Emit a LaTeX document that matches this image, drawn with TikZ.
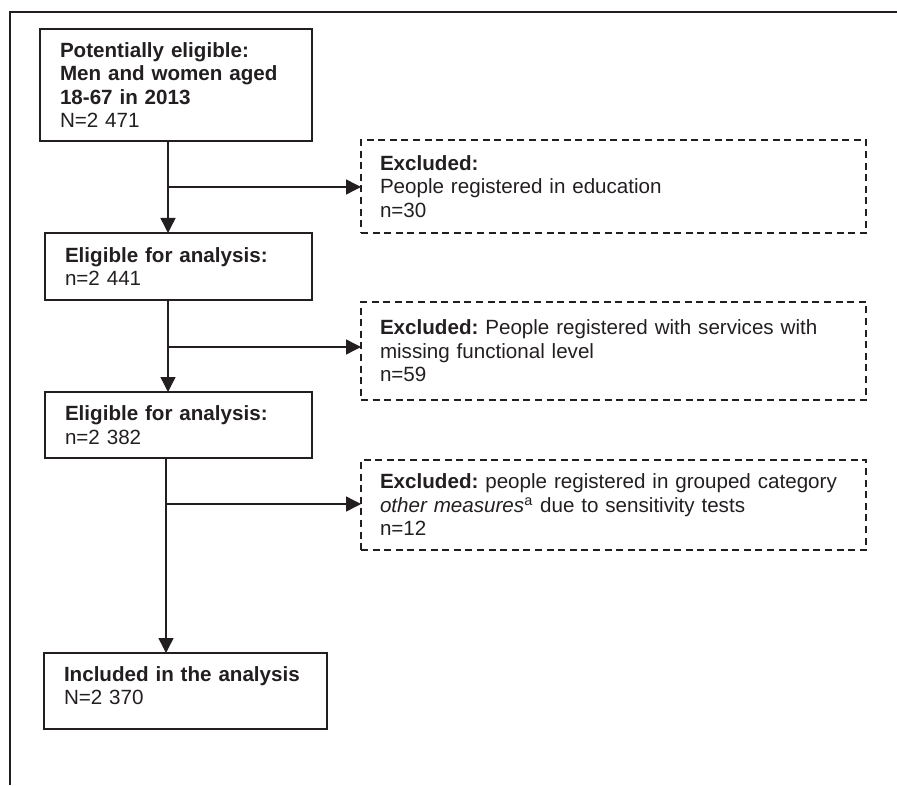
\documentclass[tikz,border=0pt]{standalone}
\usepackage{fontspec}
\setmainfont{Liberation Sans}
\usetikzlibrary{arrows.meta}
\definecolor{ink}{RGB}{35,31,32}
\frenchspacing

\begin{document}
\begin{tikzpicture}[x=0.5pt,y=-0.5pt]
\tikzset{every node/.style={font=\fontsize{10.3}{11.75}\selectfont, text=ink, anchor=north west, align=left, outer sep=0pt, inner xsep=10pt, inner ysep=0pt},
  stage/.style={draw=ink, line width=1.2pt},
  excl/.style={draw=ink, line width=0.8pt, dash pattern=on 3.5pt off 2.3pt, inner xsep=9.5pt, minimum width=252.5pt, text width=233.5pt},
  flow/.style={draw=ink, line width=0.7pt, -{Triangle[length=7.5pt,width=7.5pt]}}}
\useasboundingbox (0,0) rectangle (897,785);
\draw [ink, line width=1.1pt] (10,785) -- (10,12) -- (897,12);
\node [stage, minimum width=136pt, text width=116pt, minimum height=56pt] (pot) at (40,29) {\textbf{Potentially eligible:}\\\textbf{Men and women aged}\\\textbf{18-67 in 2013}\\N=2 471};
\node [stage, minimum width=133.5pt, text width=113.5pt, minimum height=33.5pt] (elig1) at (45,233) {\textbf{Eligible for analysis:}\\n=2 441};
\node [stage, minimum width=133.5pt, text width=113.5pt, minimum height=33pt] (elig2) at (45,392) {\textbf{Eligible for analysis:}\\n=2 382};
\node [stage, minimum width=141.5pt, text width=121.5pt, minimum height=38pt] (incl) at (44,653) {\textbf{Included in the analysis}\\N=2 370\rule[-5.5pt]{0pt}{0pt}};
\node [excl, minimum height=46.5pt] (exc1) at (361,140) {\textbf{Excluded:}\\People registered in education\\n=30};
\node [excl, minimum height=49pt] (exc2) at (361,302) {\textbf{Excluded:} People registered with services with\\missing functional level\\n=59};
\node [excl, minimum height=45pt] (exc3) at (361,460) {\textbf{Excluded:} people registered in grouped category\\\textit{other measures}\textsuperscript{a} due to sensitivity tests\\n=12};
\coordinate (j1) at (168,187);
\coordinate (j2) at (168,347);
\coordinate (j3) at (166,504);
\draw [flow] (pot.south -| j1) -- (elig1.north -| j1);
\draw [flow] (j1) -- (j1 -| exc1.west);
\draw [flow] (elig1.south -| j2) -- (elig2.north -| j2);
\draw [flow] (j2) -- (j2 -| exc2.west);
\draw [flow] (elig2.south -| j3) -- (incl.north -| j3);
\draw [flow] (j3) -- (j3 -| exc3.west);
\end{tikzpicture}
\end{document}
